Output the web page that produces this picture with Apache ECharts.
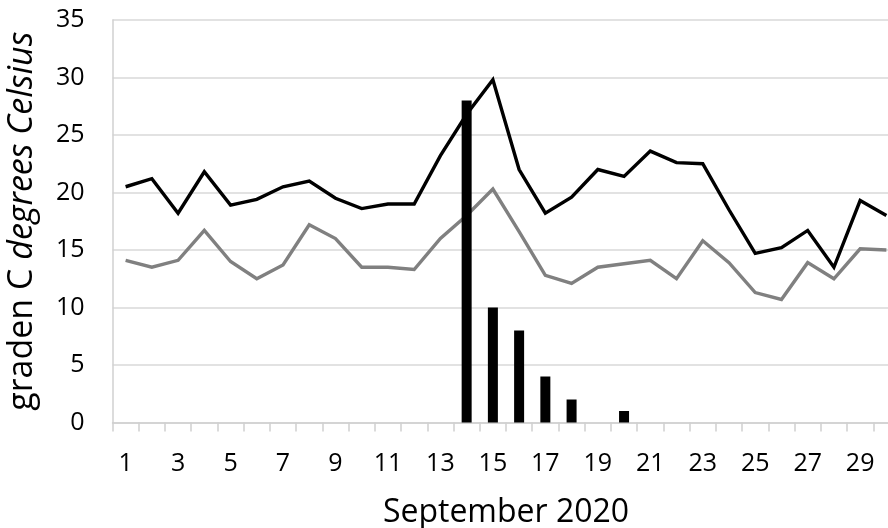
<!DOCTYPE html>
<html>
<head>
<meta charset="utf-8">
<script src="https://cdn.jsdelivr.net/npm/echarts@6/dist/echarts.min.js"></script>
<style>
  html, body { margin: 0; padding: 0; background: #fff; overflow: hidden; }
  #chart { width: 888px; height: 528px; }
</style>
</head>
<body>
<div id="chart"></div>
<script>
const days = ['1','2','3','4','5','6','7','8','9','10','11','12','13','14','15','16','17','18','19','20','21','22','23','24','25','26','27','28','29','30'];
const maxTemp = [20.5, 21.2, 18.2, 21.8, 18.9, 19.4, 20.5, 21.0, 19.5, 18.6, 19.0, 19.0, 23.2, 26.8, 29.8, 22.0, 18.2, 19.6, 22.0, 21.4, 23.6, 22.6, 22.5, 18.5, 14.7, 15.2, 16.7, 13.5, 19.3, 18.0];
const minTemp = [14.1, 13.5, 14.1, 16.7, 14.0, 12.5, 13.7, 17.2, 16.0, 13.5, 13.5, 13.3, 16.0, 18.0, 20.3, 16.6, 12.8, 12.1, 13.5, 13.8, 14.1, 12.5, 15.8, 13.9, 11.3, 10.7, 13.9, 12.5, 15.1, 15.0];
const barValues = [null, null, null, null, null, null, null, null, null, null, null, null, null, 28, 10, 8, 4, 2, null, 1, null, null, null, null, null, null, null, null, null, null];
const yTicks = { min: 0, max: 35, interval: 5 };
const xTitle = 'September 2020';

const FONT = '"Open Sans", "Noto Sans", sans-serif';
const chart = echarts.init(document.getElementById('chart'), null, { renderer: 'canvas' });
chart.setOption({
  animation: false,
  backgroundColor: '#ffffff',
  grid: { left: 112.5, width: 787, top: 20, height: 402.5, containLabel: false, outerBoundsMode: 'none' },
  xAxis: {
    type: 'category',
    data: days,
    boundaryGap: true,
    name: xTitle,
    nameLocation: 'middle',
    nameGap: 74,
    nameTextStyle: { fontFamily: FONT, fontSize: 32, color: '#000' },
    axisLine: { show: true, lineStyle: { color: '#d0d0d0', width: 1.5 } },
    axisTick: { show: true, length: 9, interval: 0, lineStyle: { color: '#d0d0d0', width: 1.5 } },
    axisLabel: { interval: 1, margin: 29, fontFamily: FONT, fontSize: 25, color: '#000' },
    splitLine: { show: false }
  },
  yAxis: {
    type: 'value',
    min: yTicks.min,
    max: yTicks.max,
    interval: yTicks.interval,
    name: '{n|graden C }{i|degrees Celsius}',
    nameLocation: 'middle',
    nameGap: 73,
    nameRotate: 90,
    nameTextStyle: {
      fontFamily: FONT, fontSize: 34, color: '#000',
      rich: {
        n: { fontFamily: FONT, fontSize: 34, color: '#000' },
        i: { fontFamily: FONT, fontSize: 34, fontStyle: 'italic', color: '#000' }
      }
    },
    axisLine: { show: true, lineStyle: { color: '#d0d0d0', width: 1.5 } },
    axisTick: { show: false },
    axisLabel: { margin: 28, fontFamily: FONT, fontSize: 25, color: '#000' },
    splitLine: { show: true, lineStyle: { color: '#d9d9d9', width: 1.5 } }
  },
  series: [
    {
      name: 'max',
      type: 'line',
      data: maxTemp,
      symbol: 'none',
      lineStyle: { color: '#000000', width: 3.4, join: 'miter' },
      itemStyle: { color: '#000000' },
      z: 2
    },
    {
      name: 'min',
      type: 'line',
      data: minTemp,
      symbol: 'none',
      lineStyle: { color: '#808080', width: 3.4, join: 'miter' },
      itemStyle: { color: '#808080' },
      z: 2
    },
    {
      name: 'bar',
      type: 'bar',
      data: barValues,
      barWidth: 10,
      itemStyle: { color: '#000000' },
      z: 3
    }
  ]
});
</script>
</body>
</html>
